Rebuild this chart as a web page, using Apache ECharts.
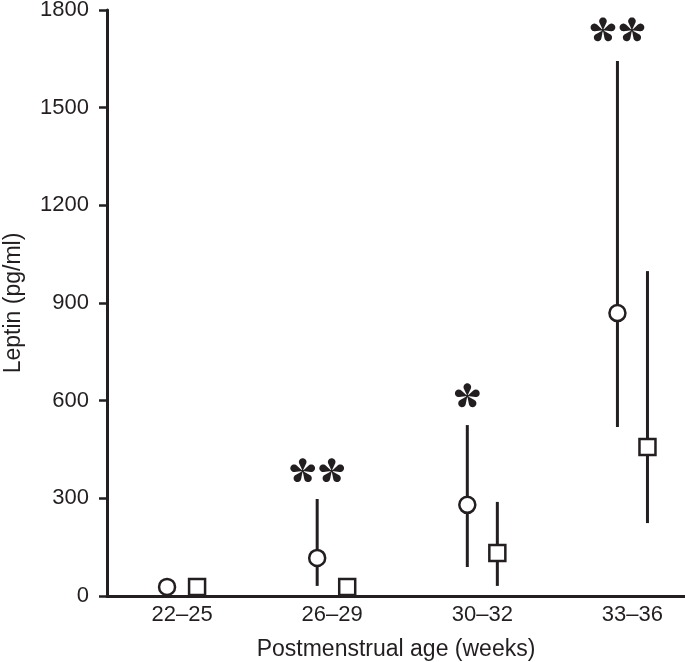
<!DOCTYPE html>
<html><head><meta charset="utf-8">
<script src="https://cdn.jsdelivr.net/npm/echarts@6/dist/echarts.min.js"></script>
<style>html,body{margin:0;padding:0;background:#fff}#c{width:685px;height:662px}</style>
</head><body><div id="c"></div>
<script>
const categories = ['22\u201325', '26\u201329', '30\u201332', '33\u201336'];
// circle group
const circleMean = [28, 117, 280, 869];
const circleLow  = [null, 31, 89, 519];
const circleHigh = [null, 298, 525, 1643];
// square group
const squareMean = [28, 28, 132, 458];
const squareLow  = [null, null, 31, 224];
const squareHigh = [null, null, 289, 998];
// significance marks (count of asterisks and their height)
const sigLabels = ['', '**', '*', '**'];
const sigValues = [null, 384, 614, 1738];
const yTicks = [0, 300, 600, 900, 1200, 1500, 1800];

const OFF = 0.1;
const ink = '#231f20';
const font = '"Liberation Sans", Arial, sans-serif';

function bars(low, high, off) {
  const out = [];
  categories.forEach((c, i) => { if (low[i] != null) out.push([i + 1 + off, low[i], high[i]]); });
  return out;
}
function pts(mean, off) { return mean.map((v, i) => [i + 1 + off, v]); }
const errRender = (params, api) => {
  const a = api.coord([api.value(0), api.value(1)]);
  const b = api.coord([api.value(0), api.value(2)]);
  return { type: 'line', shape: { x1: a[0], y1: a[1], x2: b[0], y2: b[1] }, style: { stroke: ink, lineWidth: 3 } };
};
const sigData = [];
sigLabels.forEach((s, i) => { if (s) sigData.push([i + 1 - OFF, sigValues[i], s]); });

// five-petal teardrop asterisk glyph
function asteriskGlyph(cx, cy) {
  const r = 3.8, d = 9.0;
  const beta = Math.PI - Math.acos(r / d);
  const kids = [];
  for (let k = 0; k < 5; k++) {
    const th = -Math.PI / 2 + k * 2 * Math.PI / 5;
    const ccx = cx + d * Math.cos(th), ccy = cy + d * Math.sin(th);
    const points = [[cx, cy]];
    const N = 24;
    for (let j = 0; j <= N; j++) {
      const ph = th - beta + (2 * beta) * j / N;
      points.push([ccx + r * Math.cos(ph), ccy + r * Math.sin(ph)]);
    }
    kids.push({ type: 'polygon', shape: { points }, style: { fill: ink } });
  }
  kids.push({ type: 'circle', shape: { cx, cy, r: 1.3 }, style: { fill: ink } });
  return kids;
}

const chart = echarts.init(document.getElementById('c'), null, { renderer: 'canvas' });
chart.setOption({
  animation: false, backgroundColor: '#fff',
  grid: { left: 107, right: 0, top: 10, bottom: 66, containLabel: false, outerBoundsMode: 'none' },
  xAxis: {
    type: 'value', min: 0.5, max: 4.35, interval: 0.5,
    axisLine: { lineStyle: { color: ink, width: 3 } }, axisTick: { show: false }, splitLine: { show: false },
    axisLabel: { color: ink, fontSize: 22, fontFamily: font, margin: 8, showMaxLabel: false,
      formatter: v => Number.isInteger(v) ? categories[v - 1] : '' },
    name: 'Postmenstrual age (weeks)', nameLocation: 'middle', nameGap: 42,
    nameTextStyle: { color: ink, fontSize: 23, fontFamily: font }
  },
  yAxis: {
    type: 'value', min: yTicks[0], max: yTicks[yTicks.length - 1], interval: 300,
    axisLine: { show: true, lineStyle: { color: ink, width: 3 } },
    axisTick: { show: true, length: 8, lineStyle: { color: ink, width: 2.5 } }, splitLine: { show: false },
    axisLabel: { color: ink, fontSize: 22, fontFamily: font, margin: 18, formatter: v => String(v) },
    name: 'Leptin (pg/ml)', nameLocation: 'middle', nameGap: 82,
    nameTextStyle: { color: ink, fontSize: 23, fontFamily: font }
  },
  series: [
    { type: 'custom', renderItem: errRender, data: bars(circleLow, circleHigh, -OFF), z: 1, encode: { x: 0, y: [1, 2] } },
    { type: 'custom', renderItem: errRender, data: bars(squareLow, squareHigh, OFF), z: 1, encode: { x: 0, y: [1, 2] } },
    { type: 'scatter', data: pts(circleMean, -OFF), symbol: 'circle', symbolSize: 16, z: 3,
      itemStyle: { color: '#fff', borderColor: ink, borderWidth: 2.5, opacity: 1 } },
    { type: 'scatter', data: pts(squareMean, OFF), symbol: 'rect', symbolSize: 16, z: 3,
      itemStyle: { color: '#fff', borderColor: ink, borderWidth: 2.5, opacity: 1 } },
    { type: 'custom', z: 4, data: sigData, encode: { x: 0, y: 1 },
      renderItem: (params, api) => {
        const p = api.coord([api.value(0), api.value(1)]);
        const n = sigData[params.dataIndex][2].length;
        let children = [];
        for (let k = 0; k < n; k++) {
          children = children.concat(asteriskGlyph(p[0] + (k - (n - 1) / 2) * 29, p[1]));
        }
        return { type: 'group', children };
      } }
  ]
});
</script></body></html>
